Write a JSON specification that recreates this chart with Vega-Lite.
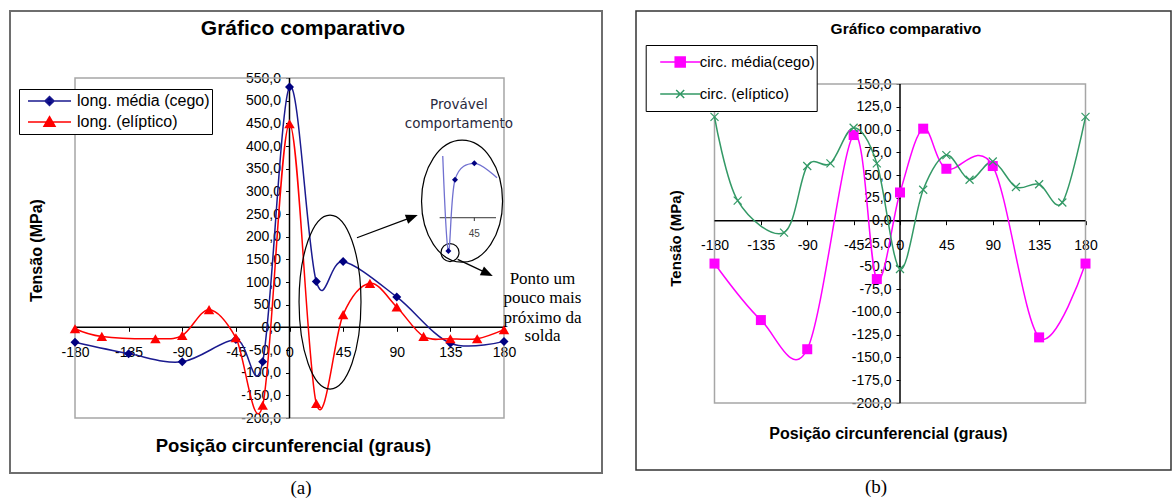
{
  "$schema": "https://vega.github.io/schema/vega-lite/v6.json",
  "background": "white",
  "padding": {"left": 9, "top": 10, "right": 0, "bottom": 0},
  "autosize": {"type": "pad"},
  "spacing": 32,
  "config": {
    "font": "Liberation Sans",
    "axis": {"domain": false, "grid": false, "tickColor": "#000000", "tickSize": 4, "tickWidth": 1, "labelColor": "#000000", "labelFont": "Liberation Sans", "labelFontSize": 14, "titleFont": "Liberation Sans", "titleFontWeight": "bold", "titleColor": "#000000", "labelOverlap": false, "labelFlush": false, "labelBound": false}
  },
  "resolve": {"scale": {"x": "independent", "y": "independent", "color": "independent"}, "legend": {"color": "independent"}},
  "datasets": {
    "painelA": [
      {"serie": "long. média (cego)", "x": -180, "y": -33},
      {"serie": "long. média (cego)", "x": -135, "y": -58},
      {"serie": "long. média (cego)", "x": -90, "y": -76},
      {"serie": "long. média (cego)", "x": -45, "y": -27},
      {"serie": "long. média (cego)", "x": -22.5, "y": -76},
      {"serie": "long. média (cego)", "x": 0, "y": 530},
      {"serie": "long. média (cego)", "x": 22.5, "y": 101},
      {"serie": "long. média (cego)", "x": 45, "y": 145},
      {"serie": "long. média (cego)", "x": 90, "y": 67},
      {"serie": "long. média (cego)", "x": 135, "y": -35},
      {"serie": "long. média (cego)", "x": 180, "y": -31},
      {"serie": "long. (elíptico)", "x": -180, "y": -3},
      {"serie": "long. (elíptico)", "x": -157.5, "y": -20},
      {"serie": "long. (elíptico)", "x": -112.5, "y": -25},
      {"serie": "long. (elíptico)", "x": -90, "y": -18},
      {"serie": "long. (elíptico)", "x": -67.5, "y": 39},
      {"serie": "long. (elíptico)", "x": -45, "y": -23},
      {"serie": "long. (elíptico)", "x": -22.5, "y": -172},
      {"serie": "long. (elíptico)", "x": 0, "y": 449},
      {"serie": "long. (elíptico)", "x": 22.5, "y": -168},
      {"serie": "long. (elíptico)", "x": 45, "y": 28},
      {"serie": "long. (elíptico)", "x": 67.5, "y": 97},
      {"serie": "long. (elíptico)", "x": 90, "y": 45},
      {"serie": "long. (elíptico)", "x": 112.5, "y": -20},
      {"serie": "long. (elíptico)", "x": 135, "y": -25},
      {"serie": "long. (elíptico)", "x": 157.5, "y": -25},
      {"serie": "long. (elíptico)", "x": 180, "y": -5}
    ],
    "painelB": [
      {"serie": "circ. média(cego)", "x": -180, "y": -47},
      {"serie": "circ. média(cego)", "x": -135, "y": -109},
      {"serie": "circ. média(cego)", "x": -90, "y": -141},
      {"serie": "circ. média(cego)", "x": -45, "y": 94},
      {"serie": "circ. média(cego)", "x": -22.5, "y": -64},
      {"serie": "circ. média(cego)", "x": 0, "y": 31},
      {"serie": "circ. média(cego)", "x": 22.5, "y": 101},
      {"serie": "circ. média(cego)", "x": 45, "y": 57},
      {"serie": "circ. média(cego)", "x": 90, "y": 60},
      {"serie": "circ. média(cego)", "x": 135, "y": -128},
      {"serie": "circ. média(cego)", "x": 180, "y": -47},
      {"serie": "circ. (elíptico)", "x": -180, "y": 114},
      {"serie": "circ. (elíptico)", "x": -157.5, "y": 22},
      {"serie": "circ. (elíptico)", "x": -112.5, "y": -13},
      {"serie": "circ. (elíptico)", "x": -90, "y": 60},
      {"serie": "circ. (elíptico)", "x": -67.5, "y": 63},
      {"serie": "circ. (elíptico)", "x": -45, "y": 102},
      {"serie": "circ. (elíptico)", "x": -22.5, "y": 63},
      {"serie": "circ. (elíptico)", "x": 0, "y": -53},
      {"serie": "circ. (elíptico)", "x": 22.5, "y": 34},
      {"serie": "circ. (elíptico)", "x": 45, "y": 72},
      {"serie": "circ. (elíptico)", "x": 67.5, "y": 45},
      {"serie": "circ. (elíptico)", "x": 90, "y": 65},
      {"serie": "circ. (elíptico)", "x": 112.5, "y": 37},
      {"serie": "circ. (elíptico)", "x": 135, "y": 40},
      {"serie": "circ. (elíptico)", "x": 157.5, "y": 20},
      {"serie": "circ. (elíptico)", "x": 180, "y": 114}
    ],
    "molduraA": [{"x": -180, "x2": 180, "y": -200, "y2": 550}],
    "eixosA": [{"x": 0, "x2": 0, "y": -200, "y2": 550}, {"x": -180, "x2": 180, "y": 0, "y2": 0}],
    "molduraB": [{"x": -180, "x2": 180, "y": -200, "y2": 150}],
    "eixosB": [{"x": 0, "x2": 0, "y": -200, "y2": 150}, {"x": -180, "x2": 180, "y": 0, "y2": 0}],
    "anotA": [
      {"id": "elipse", "x": 34.0, "y": 55.8},
      {"id": "elipse2", "x": 144.8, "y": 278.2},
      {"id": "circulo", "x": 134.7, "y": 165.0},
      {"id": "seta1", "x": 56.6, "y": 197.6, "x2": 102.9, "y2": 243.1},
      {"id": "seta2", "x": 141.1, "y": 150.0, "x2": 166.0, "y2": 118.9},
      {"id": "ponta1", "x": 102.9, "y": 243.1},
      {"id": "ponta2", "x": 166.0, "y": 118.9},
      {"id": "eixo", "x": 126.0, "y": 241.8, "x2": 173.3, "y2": 241.8},
      {"id": "eixo", "x": 155.1, "y": 241.8, "x2": 155.1, "y2": 234.5}
    ],
    "insetA": [
      {"x": 128.6, "y": 377.9, "medido": false},
      {"x": 133.3, "y": 168.3, "medido": true},
      {"x": 138.9, "y": 325.6, "medido": true},
      {"x": 155.1, "y": 361.8, "medido": true},
      {"x": 174.1, "y": 330.0, "medido": false}
    ],
    "textosA": [
      {"tipo": "titulo", "x": 11.3, "y": 658.0, "texto": "Gráfico comparativo"},
      {"tipo": "sans", "x": 142.2, "y": 490.4, "texto": "Provável"},
      {"tipo": "sans", "x": 142.2, "y": 449.1, "texto": "comportamento"},
      {"tipo": "serif", "x": 212.3, "y": 106.5, "texto": "Ponto um"},
      {"tipo": "serif", "x": 212.3, "y": 64.6, "texto": "pouco mais"},
      {"tipo": "serif", "x": 212.3, "y": 20.5, "texto": "próximo da"},
      {"tipo": "serif", "x": 212.3, "y": -19.2, "texto": "solda"},
      {"tipo": "mini", "x": 155.1, "y": 205.8, "texto": "45"},
      {"tipo": "legenda", "x": 9.7, "y": -354.5, "texto": "(a)"}
    ],
    "textosB": [
      {"tipo": "titulo", "x": 5.8, "y": 210.3, "texto": "Gráfico comparativo"},
      {"tipo": "legenda", "x": -23.3, "y": -292.2, "texto": "(b)"}
    ]
  },
  "hconcat": [
    {
      "width": 592,
      "height": 462,
      "view": {"stroke": "#6e6e6e", "strokeWidth": 2},
      "encoding": {
        "x": {"field": "x", "type": "quantitative", "scale": {"domain": [-234.55, 262.24], "nice": false, "zero": false},
          "axis": {"values": [-180, -135, -90, -45, 0, 45, 90, 135, 180], "offset": -145.7, "labelPadding": 14, "labelExpr": "(datum.value < 0 ? '-' : '') + format(abs(datum.value), 'd')", "title": "Posição circunferencial (graus)", "titleFontSize": 18.5, "titleX": 283, "titleY": 117.7, "titleBaseline": "middle", "titleAlign": "center"}},
        "y": {"field": "y", "type": "quantitative", "scale": {"domain": [-321.3, 697.8], "nice": false, "zero": false},
          "axis": {"values": [-200, -150, -100, -50, 0, 50, 100, 150, 200, 250, 300, 350, 400, 450, 500, 550], "offset": -279.5, "labelPadding": 5, "labelExpr": "(datum.value < 0 ? '-' : '') + replace(format(abs(datum.value), '.1f'), '.', ',')", "title": "Tensão (MPa)", "titleFontSize": 16, "titleX": -253.5, "titleY": 239, "titleAngle": 270, "titleBaseline": "middle", "titleAlign": "center"}}
      },
      "layer": [
        {"data": {"name": "molduraA"}, "mark": {"type": "rect", "fill": "transparent", "stroke": "#a6a6a6", "strokeWidth": 1.5}, "encoding": {"x2": {"field": "x2"}, "y2": {"field": "y2"}}},
        {"data": {"name": "eixosA"}, "mark": {"type": "rule", "color": "#000000", "strokeWidth": 1.5}, "encoding": {"x2": {"field": "x2"}, "y2": {"field": "y2"}}},
        {"data": {"name": "painelA"}, "mark": {"type": "line", "interpolate": "cardinal", "tension": 0, "strokeWidth": 1.5},
          "encoding": {"color": {"field": "serie", "type": "nominal",
            "scale": {"domain": ["long. média (cego)", "long. (elíptico)"], "range": ["#1a1a8f", "#ff0000"]},
            "legend": {"orient": "none", "legendX": 9, "legendY": 78, "title": null, "padding": 1.5, "strokeColor": "#000000", "fillColor": "#ffffff",
              "symbolSize": 100, "symbolStrokeWidth": 1.5, "symbolOffset": 21, "labelOffset": 19.5, "clipHeight": 21, "rowPadding": 0,
              "labelFont": "Liberation Sans", "labelFontSize": 16, "labelColor": "#000000", "labelExpr": "datum.label + '\u00a0\u00a0\u00a0'",
              "encode": {"symbols": {"update": {
                "shape": {"signal": "datum.value === 'long. média (cego)' ? 'M-4.3,0L4.3,0M0,-0.9L0.9,0L0,0.9L-0.9,0Z' : 'M-4.3,0L4.3,0M0,-1.05L1.1,0.85L-1.1,0.85Z'"},
                "fill": {"signal": "datum.value === 'long. média (cego)' ? '#000080' : '#ff0000'"},
                "stroke": {"signal": "datum.value === 'long. média (cego)' ? '#1a1a8f' : '#ff0000'"},
                "strokeWidth": {"value": 1.5},
                "opacity": {"value": 1}}}}}}}},
        {"data": {"name": "painelA"}, "transform": [{"filter": "datum.serie === 'long. média (cego)'"}], "mark": {"type": "point", "shape": "diamond", "size": 81, "filled": true, "opacity": 1, "color": "#000080"}},
        {"data": {"name": "painelA"}, "transform": [{"filter": "datum.serie === 'long. (elíptico)'"}], "mark": {"type": "point", "shape": "triangle-up", "size": 110, "filled": true, "opacity": 1, "color": "#ff0000"}},
        {"data": {"name": "anotA"}, "transform": [{"filter": "datum.id === 'elipse'"}], "mark": {"type": "point", "filled": false, "stroke": "#000000", "strokeWidth": 1.2, "opacity": 1, "size": 30276, "shape": "M0.356,0C0.356,0.552,0.197,1,0,1C-0.197,1,-0.356,0.552,-0.356,0C-0.356,-0.552,-0.197,-1,0,-1C0.197,-1,0.356,-0.552,0.356,0Z"}},
        {"data": {"name": "anotA"}, "transform": [{"filter": "datum.id === 'elipse2'"}], "mark": {"type": "point", "filled": false, "stroke": "#000000", "strokeWidth": 1.2, "opacity": 1, "size": 14884, "shape": "M0.664,0C0.664,0.552,0.367,1,0,1C-0.367,1,-0.664,0.552,-0.664,0C-0.664,-0.552,-0.367,-1,0,-1C0.367,-1,0.664,-0.552,0.664,0Z"}},
        {"data": {"name": "anotA"}, "transform": [{"filter": "datum.id === 'circulo'"}], "mark": {"type": "point", "filled": false, "stroke": "#000000", "strokeWidth": 1.2, "opacity": 1, "size": 324, "shape": "circle"}},
        {"data": {"name": "anotA"}, "transform": [{"filter": "datum.id === 'seta1' || datum.id === 'seta2'"}], "mark": {"type": "rule", "color": "#000000", "strokeWidth": 1.3}, "encoding": {"x2": {"field": "x2"}, "y2": {"field": "y2"}}},
        {"data": {"name": "anotA"}, "transform": [{"filter": "datum.id === 'ponta1'"}], "mark": {"type": "point", "filled": true, "color": "#000000", "opacity": 1, "size": 144, "angle": 339.5, "shape": "M1,0L-1,-0.8L-1,0.8Z"}},
        {"data": {"name": "anotA"}, "transform": [{"filter": "datum.id === 'ponta2'"}], "mark": {"type": "point", "filled": true, "color": "#000000", "opacity": 1, "size": 144, "angle": 25.5, "shape": "M1,0L-1,-0.8L-1,0.8Z"}},
        {"data": {"name": "anotA"}, "transform": [{"filter": "datum.id === 'eixo'"}], "mark": {"type": "rule", "color": "#333333", "strokeWidth": 1}, "encoding": {"x2": {"field": "x2"}, "y2": {"field": "y2"}}},
        {"data": {"name": "insetA"}, "mark": {"type": "line", "interpolate": "cardinal", "tension": 0, "color": "#7070d0", "strokeWidth": 1.3}},
        {"data": {"name": "insetA"}, "transform": [{"filter": "datum.medido"}], "mark": {"type": "point", "shape": "diamond", "size": 36, "filled": true, "opacity": 1, "color": "#000080"}},
        {"data": {"name": "textosA"}, "transform": [{"filter": "datum.tipo === 'titulo'"}], "mark": {"type": "text", "font": "Liberation Sans", "fontSize": 21, "fontWeight": "bold", "color": "#000000", "align": "center", "baseline": "middle"}, "encoding": {"text": {"field": "texto"}}},
        {"data": {"name": "textosA"}, "transform": [{"filter": "datum.tipo === 'sans'"}], "mark": {"type": "text", "font": "DejaVu Sans", "fontSize": 13.5, "color": "#2a2a40", "align": "center", "baseline": "middle"}, "encoding": {"text": {"field": "texto"}}},
        {"data": {"name": "textosA"}, "transform": [{"filter": "datum.tipo === 'serif'"}], "mark": {"type": "text", "font": "Liberation Serif", "fontSize": 17, "color": "#000000", "align": "center", "baseline": "middle"}, "encoding": {"text": {"field": "texto"}}},
        {"data": {"name": "textosA"}, "transform": [{"filter": "datum.tipo === 'mini'"}], "mark": {"type": "text", "font": "Liberation Sans", "fontSize": 10, "color": "#444444", "align": "center", "baseline": "middle"}, "encoding": {"text": {"field": "texto"}}},
        {"data": {"name": "textosA"}, "transform": [{"filter": "datum.tipo === 'legenda'"}], "mark": {"type": "text", "font": "Liberation Serif", "fontSize": 19, "color": "#000000", "align": "center", "baseline": "middle"}, "encoding": {"text": {"field": "texto"}}}
      ]
    },
    {
      "width": 535,
      "height": 459,
      "view": {"stroke": "#333333", "strokeWidth": 1.5},
      "encoding": {
        "x": {"field": "x", "type": "quantitative", "scale": {"domain": [-256.17, 262.96], "nice": false, "zero": false},
          "axis": {"values": [-180, -135, -90, -45, 0, 45, 90, 135, 180], "offset": -249.3, "labelPadding": 14, "labelExpr": "(datum.value < 0 ? '-' : '') + format(abs(datum.value), 'd')", "title": "Posição circunferencial (graus)", "titleFontSize": 16, "titleX": 252, "titleY": 212.3, "titleBaseline": "middle", "titleAlign": "center"}},
        "y": {"field": "y", "type": "quantitative", "scale": {"domain": [-273.5, 230.1], "nice": false, "zero": false},
          "axis": {"values": [-200, -175, -150, -125, -100, -75, -50, -25, 0, 25, 50, 75, 100, 125, 150], "offset": -264, "labelPadding": 5, "labelExpr": "(datum.value < 0 ? '-' : '') + replace(format(abs(datum.value), '.1f'), '.', ',')", "title": "Tensão (MPa)", "titleFontSize": 15, "titleX": -225, "titleY": 227, "titleAngle": 270, "titleBaseline": "middle", "titleAlign": "center"}}
      },
      "layer": [
        {"data": {"name": "molduraB"}, "mark": {"type": "rect", "fill": "transparent", "stroke": "#a6a6a6", "strokeWidth": 1.5}, "encoding": {"x2": {"field": "x2"}, "y2": {"field": "y2"}}},
        {"data": {"name": "eixosB"}, "mark": {"type": "rule", "color": "#000000", "strokeWidth": 1.5}, "encoding": {"x2": {"field": "x2"}, "y2": {"field": "y2"}}},
        {"data": {"name": "painelB"}, "mark": {"type": "line", "interpolate": "cardinal", "tension": 0, "strokeWidth": 1.5},
          "encoding": {"color": {"field": "serie", "type": "nominal",
            "scale": {"domain": ["circ. média(cego)", "circ. (elíptico)"], "range": ["#ff00ff", "#339966"]},
            "legend": {"orient": "none", "legendX": 9.7, "legendY": 34, "title": null, "padding": 1, "strokeColor": "#000000", "fillColor": "#ffffff",
              "symbolSize": 100, "symbolStrokeWidth": 1.5, "symbolOffset": 26, "labelOffset": 12, "clipHeight": 32, "rowPadding": 0,
              "labelFont": "Liberation Sans", "labelFontSize": 15, "labelColor": "#000000", "labelExpr": "datum.label + '\u00a0\u00a0\u00a0\u00a0\u00a0\u00a0\u00a0\u00a0\u00a0\u00a0'",
              "encode": {"symbols": {"update": {
                "shape": {"signal": "datum.value === 'circ. média(cego)' ? 'M-4,0L4,0M-1,-1L1,-1L1,1L-1,1Z' : 'M-4,0L4,0M-0.8,-0.8L0.8,0.8M-0.8,0.8L0.8,-0.8'"},
                "fill": {"signal": "datum.value === 'circ. média(cego)' ? '#ff00ff' : 'transparent'"},
                "stroke": {"signal": "datum.value === 'circ. média(cego)' ? '#ff00ff' : '#339966'"},
                "strokeWidth": {"value": 1.5},
                "opacity": {"value": 1}}}}}}}},
        {"data": {"name": "painelB"}, "transform": [{"filter": "datum.serie === 'circ. média(cego)'"}], "mark": {"type": "point", "shape": "square", "size": 100, "filled": true, "opacity": 1, "color": "#ff00ff"}},
        {"data": {"name": "painelB"}, "transform": [{"filter": "datum.serie === 'circ. (elíptico)'"}], "mark": {"type": "point", "shape": "M-1,-1L1,1M-1,1L1,-1", "size": 64, "filled": false, "opacity": 1, "stroke": "#339966", "strokeWidth": 1.2}},
        {"data": {"name": "textosB"}, "transform": [{"filter": "datum.tipo === 'titulo'"}], "mark": {"type": "text", "font": "Liberation Sans", "fontSize": 15.5, "fontWeight": "bold", "color": "#000000", "align": "center", "baseline": "middle"}, "encoding": {"text": {"field": "texto"}}},
        {"data": {"name": "textosB"}, "transform": [{"filter": "datum.tipo === 'legenda'"}], "mark": {"type": "text", "font": "Liberation Serif", "fontSize": 19, "color": "#000000", "align": "center", "baseline": "middle"}, "encoding": {"text": {"field": "texto"}}}
      ]
    }
  ]
}
